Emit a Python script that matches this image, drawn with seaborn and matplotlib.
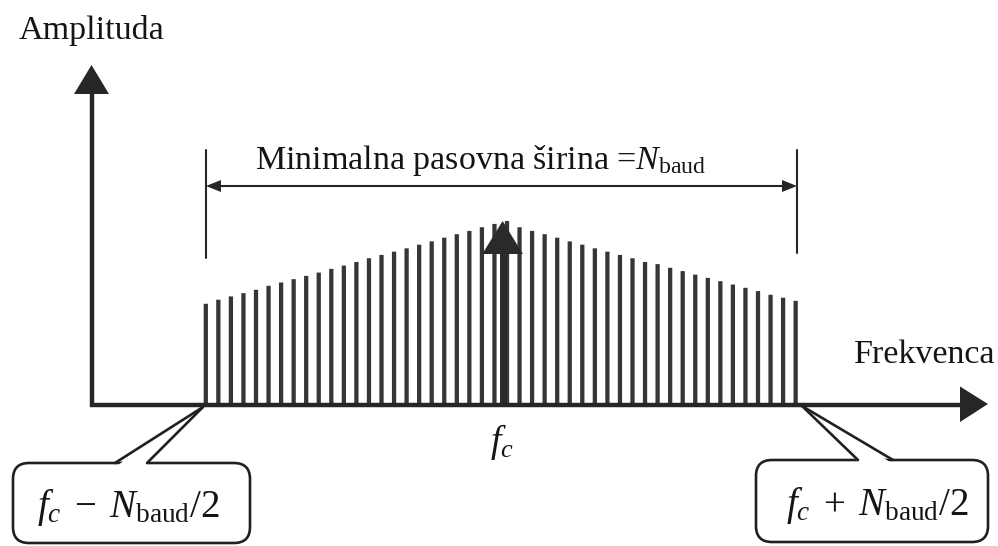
import matplotlib
matplotlib.use("Agg")
import matplotlib.pyplot as plt
import pandas as pd
import seaborn as sns
from matplotlib.patches import Polygon, FancyBboxPatch

# Spectral lines of the modulated signal: bin offset from the carrier and relative amplitude
bin_offsets = list(range(-24, 24))
amplitudes = [
    0.549, 0.571, 0.589, 0.607, 0.625, 0.647, 0.665, 0.683, 0.701, 0.719,
    0.739, 0.757, 0.777, 0.797, 0.815, 0.833, 0.851, 0.871, 0.889, 0.909,
    0.928, 0.946, 0.966, 0.984,
    1.000,
    0.966, 0.946, 0.928, 0.909, 0.889, 0.871, 0.851, 0.833, 0.815, 0.797,
    0.777, 0.765, 0.745, 0.727, 0.708, 0.690, 0.672, 0.654, 0.636, 0.618,
    0.598, 0.582, 0.565,
]
carrier_offset = -0.35
carrier_amplitude = 1.0

axis_labels = ["Amplituda", "Frekvenca"]
bandwidth_label = "Minimalna pasovna širina =$N_{\\mathrm{baud}}$"
carrier_label = "$f_c$"
edge_labels = ["$f_c\\;-\\;N_{\\mathrm{baud}}/2$", "$f_c\\;+\\;N_{\\mathrm{baud}}/2$"]

sns.set_theme(style="white")
plt.rcParams["font.family"] = ["Liberation Serif", "DejaVu Serif"]
plt.rcParams["mathtext.fontset"] = "custom"
plt.rcParams["mathtext.rm"] = "Liberation Serif"
plt.rcParams["mathtext.it"] = "Liberation Serif:italic"
plt.rcParams["mathtext.bf"] = "Liberation Serif:bold"

INK = "#262626"
BAR = "#363636"
W, H = 998, 546

fig = plt.figure(figsize=(W / 100, H / 100), dpi=100)
fig.patch.set_facecolor("white")

# data axes: one unit on x is one spectral bin, one unit on y is the peak amplitude
ax = fig.add_axes([0, 0, 1, 1])
X0, DX = 507.0, 12.55     # pixel column of bin 0, pixels per bin
Y0, DY = 404.5, 183.5     # pixel row of zero amplitude, pixels per unit

df = pd.DataFrame({"offset": bin_offsets, "amp": amplitudes})
sns.barplot(data=df, x="offset", y="amp", native_scale=True, width=0.34,
            color=BAR, saturation=1, linewidth=0, errorbar=None, ax=ax)
for bar in ax.patches:
    bar.set_snap(False)
ax.set_xlim(-X0 / DX, (W - X0) / DX)
ax.set_ylim(-(H - Y0) / DY, Y0 / DY)
ax.set_axis_off()

# carrier arrow at f_c
head_hw = 20.3 / DX
head_len = 33.0 / DY
ax.plot([carrier_offset, carrier_offset], [0, carrier_amplitude - head_len + 0.01],
        color="#2a2a2a", lw=5.0, solid_capstyle="butt", zorder=5)
ax.add_patch(Polygon([(carrier_offset - head_hw, carrier_amplitude - head_len),
                      (carrier_offset + head_hw, carrier_amplitude - head_len),
                      (carrier_offset, carrier_amplitude)],
                     closed=True, fc="#2a2a2a", ec="none", zorder=6))

# overlay in figure pixels for axes arrows, labels and callouts
deco = fig.add_axes([0, 0, 1, 1])
deco.set_xlim(0, W)
deco.set_ylim(H, 0)
deco.set_axis_off()
deco.patch.set_visible(False)
deco.set_zorder(ax.get_zorder() + 1)

axis_lw = 3.2
# amplitude axis
deco.plot([92, 92], [407, 92], color=INK, lw=axis_lw, solid_capstyle="butt")
deco.add_patch(Polygon([(74, 94), (109, 94), (91.5, 65)], closed=True, fc=INK, ec="none"))
# frequency axis
deco.plot([90, 962], [404.5, 404.5], color=INK, lw=axis_lw, solid_capstyle="butt")
deco.add_patch(Polygon([(960, 386.5), (960, 422), (988, 404)], closed=True, fc=INK, ec="none"))

# bandwidth dimension line
deco.plot([206, 206], [150, 258], color=INK, lw=1.5)
deco.plot([797, 797], [150, 253], color=INK, lw=1.5)
deco.plot([214, 789], [186, 186], color=INK, lw=1.5)
deco.add_patch(Polygon([(206, 186), (221, 180), (221, 192)], closed=True, fc=INK, ec="none"))
deco.add_patch(Polygon([(797, 186), (782, 180), (782, 192)], closed=True, fc=INK, ec="none"))

fs = 24.5
deco.text(91.5, 30, axis_labels[0], ha="center", va="center", fontsize=fs, color="#151515")
deco.text(995, 355, axis_labels[1], ha="right", va="center", fontsize=fs, color="#151515")
deco.text(481, 160, bandwidth_label, ha="center", va="center", fontsize=fs, color="#151515")
deco.text(502, 442, carrier_label, ha="center", va="center", fontsize=27, color="#151515")

# callouts for the band edges
def callout(box, wedge_base, tip, text, text_xy):
    x, y, w, h = box
    deco.add_patch(FancyBboxPatch((x, y), w, h, boxstyle="round,pad=0,rounding_size=16",
                                  fc="white", ec="#202020", lw=1.9, zorder=3))
    (xa, ya), (xb, yb) = wedge_base
    deco.add_patch(Polygon([(xa + 1.5, ya + 3), tip, (xb - 1.5, yb + 3)], closed=True,
                           fc="white", ec="none", zorder=4))
    deco.plot([xa, tip[0]], [ya, tip[1]], color="#202020", lw=1.9, zorder=5)
    deco.plot([xb, tip[0]], [yb, tip[1]], color="#202020", lw=1.9, zorder=5)
    deco.text(text_xy[0], text_xy[1], text, ha="center", va="center", fontsize=28,
              color="#151515", zorder=6)

callout((13, 463, 237, 80), [(115, 463), (147, 463)], (203, 407), edge_labels[0], (128, 508))
callout((756, 460, 232, 82), [(858, 460), (893, 460)], (802, 406), edge_labels[1], (877, 506))

fig.savefig("out.png", dpi=100, facecolor="white")
